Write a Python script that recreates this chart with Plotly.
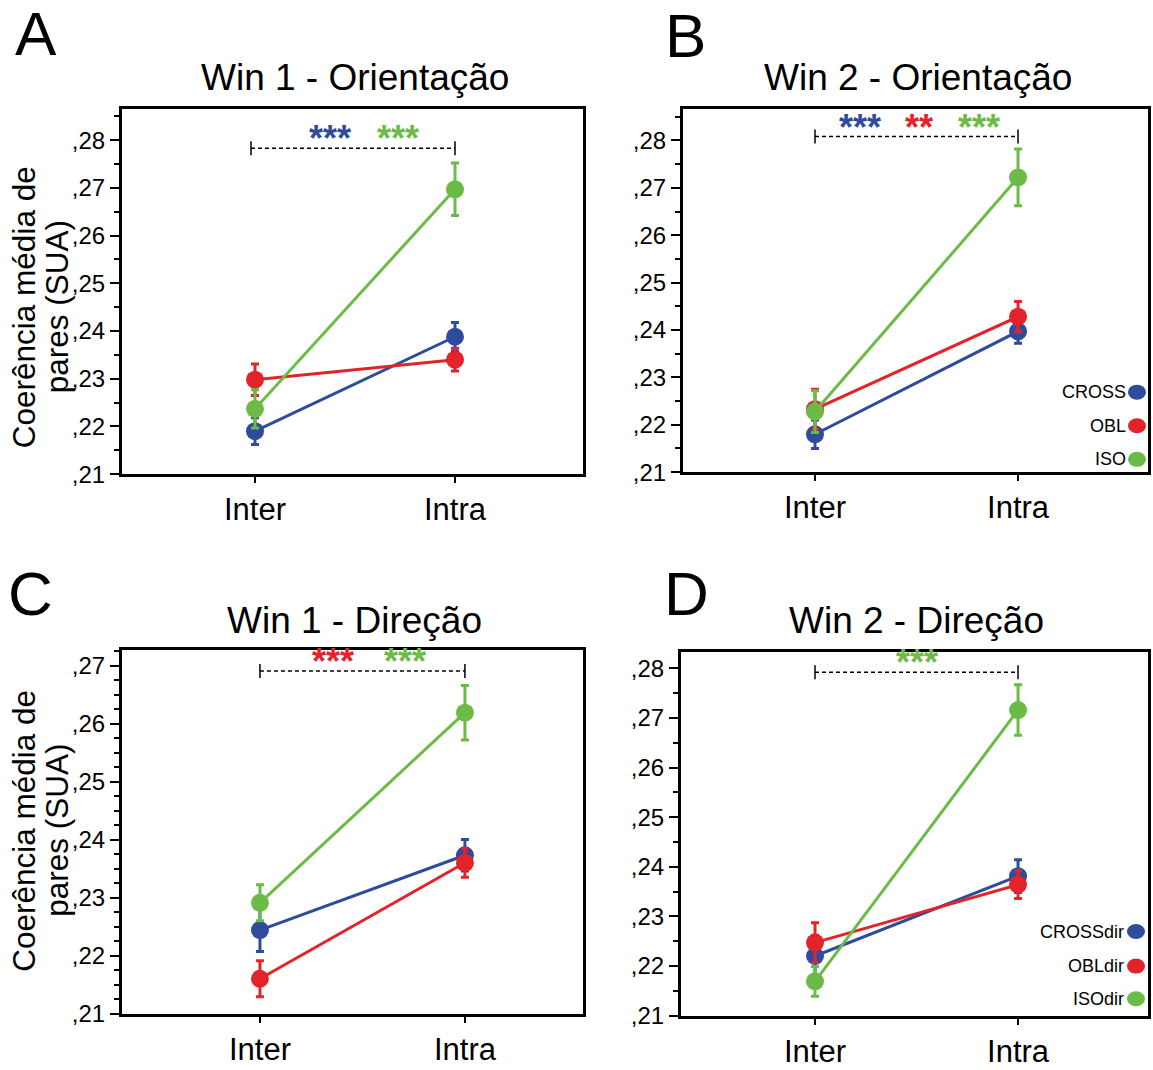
import plotly.graph_objects as go

W, H = 1153, 1070

# ---------------- data ----------------
categories = ["Inter", "Intra"]
cat_x = [0, 1]

A_cross = [0.2190, 0.2388]; A_cross_err = [0.0028, 0.0030]
A_obl = [0.2298, 0.2340];   A_obl_err = [0.0033, 0.0024]
A_iso = [0.2237, 0.2697];   A_iso_err = [0.0040, 0.0055]

B_cross = [0.2180, 0.2397]; B_cross_err = [0.0030, 0.0025]
B_obl = [0.2233, 0.2428];   B_obl_err = [0.0042, 0.0032]
B_iso = [0.2228, 0.2722];   B_iso_err = [0.0044, 0.0060]

C_cross = [0.2244, 0.2373]; C_cross_err = [0.0037, 0.0027]
C_obl = [0.2160, 0.2360];   C_obl_err = [0.0031, 0.0025]
C_iso = [0.2291, 0.2619];   C_iso_err = [0.0031, 0.0047]

D_cross = [0.2220, 0.2381]; D_cross_err = [0.0042, 0.0033]
D_obl = [0.2247, 0.2364];   D_obl_err = [0.0040, 0.0028]
D_iso = [0.2169, 0.2716];   D_iso_err = [0.0030, 0.0051]

ticks_28 = [0.21, 0.22, 0.23, 0.24, 0.25, 0.26, 0.27, 0.28]
ticks_28_text = [",21", ",22", ",23", ",24", ",25", ",26", ",27", ",28"]
ticks_27 = [0.21, 0.22, 0.23, 0.24, 0.25, 0.26, 0.27]
ticks_27_text = [",21", ",22", ",23", ",24", ",25", ",26", ",27"]

titles = ["Win 1 - Orientação", "Win 2 - Orientação", "Win 1 - Direção", "Win 2 - Direção"]
letters = ["A", "B", "C", "D"]
legend_B = ["CROSS", "OBL", "ISO"]
legend_D = ["CROSSdir", "OBLdir", "ISOdir"]
ytitle_lines = ["Coerência média de", "pares (SUA)"]

BLUE = "#2f4b9b"
RED = "#e2232a"
GREEN = "#6cbb47"
FONT = "Liberation Sans, Arial, sans-serif"


def px(x):
    """page pixel x -> paper fraction"""
    return min(1.0, max(0.0, x / W))


def py(y):
    """page pixel y (from top) -> paper fraction"""
    return min(1.0, max(0.0, 1 - y / H))


# panel geometry (page-pixel boxes) -> domains
panels = [
    dict(box=(122, 110, 583, 480), xr=[-0.665, 1.64], yr=[0.21, 0.2866], ticks=(ticks_28, ticks_28_text), minor=0.005),
    dict(box=(683, 110, 1148, 478), xr=[-0.65, 1.64], yr=[0.21, 0.2867], ticks=(ticks_28, ticks_28_text), minor=0.005),
    dict(box=(122, 658, 583, 1026), xr=[-0.673, 1.576], yr=[0.21, 0.2727], ticks=(ticks_27, ticks_27_text), minor=0.0025),
    dict(box=(681, 660, 1148, 1028), xr=[-0.66, 1.64], yr=[0.21, 0.2833], ticks=(ticks_28, ticks_28_text), minor=0.005),
]

series = [
    [(A_cross, A_cross_err, BLUE), (A_obl, A_obl_err, RED), (A_iso, A_iso_err, GREEN)],
    [(B_cross, B_cross_err, BLUE), (B_obl, B_obl_err, RED), (B_iso, B_iso_err, GREEN)],
    [(C_cross, C_cross_err, BLUE), (C_obl, C_obl_err, RED), (C_iso, C_iso_err, GREEN)],
    [(D_cross, D_cross_err, BLUE), (D_obl, D_obl_err, RED), (D_iso, D_iso_err, GREEN)],
]

fig = go.Figure()
layout = dict(
    width=W, height=H, margin=dict(l=0, r=0, t=0, b=0, pad=0),
    paper_bgcolor="white", plot_bgcolor="white", showlegend=False,
    font=dict(family=FONT, color="black"),
)
annotations = []
shapes = []

for i, (p, ser) in enumerate(zip(panels, series)):
    n = "" if i == 0 else str(i + 1)
    x0, y0, x1, y1 = p["box"]
    layout["xaxis" + n] = dict(
        domain=[px(x0), px(x1)], range=p["xr"], anchor="y" + n,
        tickmode="array", tickvals=cat_x, ticktext=categories,
        ticks="outside", ticklen=6, tickwidth=2, tickcolor="black",
        showline=True, linewidth=3, linecolor="black", mirror=True,
        showgrid=False, zeroline=False, tickfont=dict(size=31, family=FONT),
    )
    layout["yaxis" + n] = dict(
        domain=[py(y1), py(y0)], range=p["yr"], anchor="x" + n,
        tickmode="array", tickvals=p["ticks"][0], ticktext=p["ticks"][1],
        ticks="outside", ticklen=9, tickwidth=2, tickcolor="black",
        minor=dict(tickmode="linear", tick0=0.21, dtick=p["minor"], ticks="outside",
                   ticklen=5, tickwidth=2, tickcolor="black"),
        showline=True, linewidth=3, linecolor="black", mirror=True,
        showgrid=False, zeroline=False, tickfont=dict(size=24, family=FONT),
    )
    for vals, err, col in ser:
        fig.add_trace(go.Scatter(
            x=cat_x, y=vals, mode="lines+markers", xaxis="x" + n, yaxis="y" + n,
            line=dict(color=col, width=3),
            marker=dict(color=col, size=18),
            error_y=dict(type="data", array=err, visible=True, color=col, thickness=3, width=4),
        ))
    # title
    annotations.append(dict(text=titles[i], x=px((x0 + x1) / 2 + 2), y=py(78 if i < 2 else 628),
                            xref="paper", yref="paper", showarrow=False,
                            font=dict(size=37, family=FONT), xanchor="center", yanchor="middle"))
    # panel letter
    lx = [36, 685, 30, 687][i]
    ly = [34, 36, 601, 601][i]
    annotations.append(dict(text=letters[i], x=px(lx), y=py(ly), xref="paper", yref="paper",
                            showarrow=False, font=dict(size=62, family=FONT),
                            xanchor="center", yanchor="middle"))

# y-axis titles (A and C), two lines set close together
for yc in [311, 841]:
    for line, xc in zip(ytitle_lines, [24, 57]):
        annotations.append(dict(text=line, x=px(xc), y=py(yc), xref="paper", yref="paper",
                                showarrow=False, textangle=-90, font=dict(size=31.5, family=FONT),
                                xanchor="center", yanchor="middle"))

# significance brackets
brackets = [
    ("", -0.02, 1.0, 0.2783, [(0.375, BLUE, "***"), (0.715, GREEN, "***")]),
    ("2", 0.0, 1.0, 0.2808, [(0.22, BLUE, "***"), (0.51, RED, "**"), (0.81, GREEN, "***")]),
    ("3", 0.0, 1.0, 0.2691, [(0.356, RED, "***"), (0.707, GREEN, "***")]),
    ("4", 0.0, 1.0, 0.2792, [(0.50, GREEN, "***")]),
]
for n, bx0, bx1, by, stars in brackets:
    xr, yr = "x" + n, "y" + n
    shapes.append(dict(type="line", xref=xr, yref=yr, x0=bx0, x1=bx1, y0=by, y1=by,
                       line=dict(color="black", width=1.5, dash="4px,3px")))
    for bx in (bx0, bx1):
        shapes.append(dict(type="line", xref=xr, yref=yr, xsizemode="scaled",
                           ysizemode="pixel", yanchor=by, x0=bx, x1=bx, y0=-7, y1=7,
                           line=dict(color="black", width=1.5)))
    for sx, col, txt in stars:
        annotations.append(dict(text="<b>" + txt + "</b>", x=sx, y=by, xref=xr, yref=yr,
                                showarrow=False, font=dict(size=36, color=col, family=FONT),
                                xanchor="center", yanchor="bottom", yshift=-13))

# custom legends (text left, dot right)
legend_cols = [BLUE, RED, GREEN]
for labels, ys, tx, cx in [(legend_B, [397, 431, 465], 1128, 1137),
                           (legend_D, [943, 978, 1011], 1126, 1136)]:
    for lab, yy, col in zip(labels, ys, legend_cols):
        annotations.append(dict(text=lab, x=px(tx), y=py(yy), xref="paper", yref="paper",
                                showarrow=False, font=dict(size=18, family=FONT),
                                xanchor="right", yanchor="middle"))
        shapes.append(dict(type="circle", xref="paper", yref="paper",
                           xsizemode="pixel", ysizemode="pixel",
                           xanchor=px(cx), yanchor=py(yy), x0=-9, x1=9, y0=-7.5, y1=7.5,
                           fillcolor=col, line=dict(width=0)))

layout["annotations"] = annotations
layout["shapes"] = shapes
fig.update_layout(**layout)

# pin the figure to the top-left corner of the 1153x1070 window
page_fix = (
    "var d=document.documentElement, b=document.body;"
    "d.style.margin='0';d.style.padding='0';d.style.overflow='hidden';"
    "b.style.margin='0';b.style.padding='0';b.style.overflow='hidden';"
    "var g=document.getElementsByClassName('plotly-graph-div')[0];"
    "if(g){g.style.position='fixed';g.style.top='0px';g.style.left='0px';}"
)
fig.write_html("out.html", config={"displayModeBar": False}, post_script=page_fix)
